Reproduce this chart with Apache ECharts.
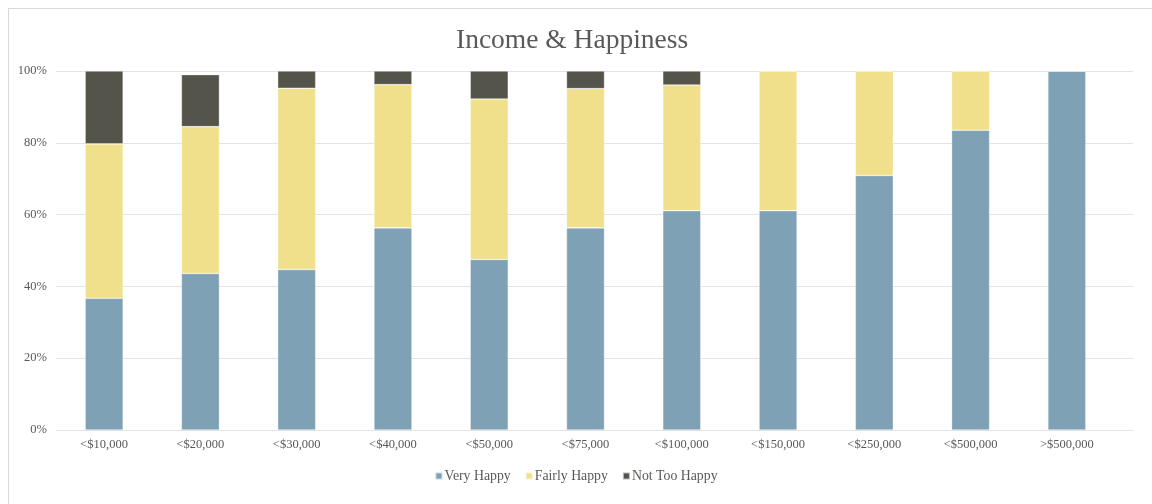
<!DOCTYPE html>
<html>
<head>
<meta charset="utf-8">
<script src="https://cdn.jsdelivr.net/npm/echarts@6/dist/echarts.min.js"></script>
<style>
  html, body { margin: 0; padding: 0; background: #fff; }
  #wrap { position: relative; width: 1152px; height: 504px; overflow: hidden; }
  #frame { position: absolute; left: 8px; top: 8px; width: 1160px; height: 520px;
           border-top: 1px solid #d9d9d9; border-left: 1px solid #d9d9d9; box-sizing: border-box; }
  #chart { position: absolute; left: 0; top: 0; width: 1152px; height: 504px; }
</style>
</head>
<body>
<div id="wrap">
  <div id="frame"></div>
  <div id="chart"></div>
</div>
<script>
var categories = ['<$10,000', '<$20,000', '<$30,000', '<$40,000', '<$50,000', '<$75,000',
                  '<$100,000', '<$150,000', '<$250,000', '<$500,000', '>$500,000'];
var veryHappy   = [36.7, 43.6, 44.7, 56.3, 47.5, 56.3, 61.1, 61.1, 70.9, 83.5, 100];
var fairlyHappy = [43.0, 40.9, 50.5, 39.9, 44.7, 38.8, 35.0, 38.9, 29.1, 16.5, 0];
var notTooHappy = [20.3, 14.5, 4.8, 3.8, 7.8, 4.9, 3.9, 0, 0, 0, 0];
var yTicks = [0, 20, 40, 60, 80, 100];

var serif = "'Liberation Serif', 'DejaVu Serif', serif";
var textColor = '#595959';
var border = { borderColor: 'rgba(255,255,255,0.6)', borderWidth: 0.6 };

var chart = echarts.init(document.getElementById('chart'));
chart.setOption({
  animation: false,
  backgroundColor: 'transparent',
  title: {
    text: 'Income & Happiness',
    left: 451,
    top: 22,
    textStyle: { fontFamily: serif, fontSize: 27.5, fontWeight: 'normal', color: textColor }
  },
  legend: {
    data: ['Very Happy', 'Fairly Happy', 'Not Too Happy'],
    left: 'center',
    top: 464,
    itemWidth: 7,
    itemHeight: 7,
    itemGap: 14,
    icon: 'rect',
    textStyle: { fontFamily: serif, fontSize: 13.8, color: textColor, padding: [0, 0, 0, -3] }
  },
  grid: [
    { left: 56, right: 37, top: 71, bottom: 74 },
    { left: 56, right: 19, top: 71, bottom: 74 }
  ],
  xAxis: [
    {
      type: 'category', gridIndex: 0, data: categories,
      axisLine: { show: false }, axisTick: { show: false },
      axisLabel: { fontFamily: serif, fontSize: 12.5, color: textColor, margin: 8, interval: 0 }
    },
    { type: 'category', gridIndex: 1, data: [''], show: false }
  ],
  yAxis: [
    {
      type: 'value', gridIndex: 0, min: yTicks[0], max: yTicks[yTicks.length - 1], interval: 20,
      splitLine: { show: false }, axisLine: { show: false }, axisTick: { show: false },
      axisLabel: { fontFamily: serif, fontSize: 12.5, color: textColor, margin: 9, formatter: '{value}%' }
    },
    {
      type: 'value', gridIndex: 1, min: 0, max: 100, interval: 20,
      axisLine: { show: false }, axisTick: { show: false }, axisLabel: { show: false },
      splitLine: { show: true, lineStyle: { color: '#e3e3e3', width: 1 } }
    }
  ],
  series: [
    { name: 'Very Happy', type: 'bar', stack: 'all', barWidth: 38, data: veryHappy,
      itemStyle: Object.assign({ color: '#7FA1B5' }, border) },
    { name: 'Fairly Happy', type: 'bar', stack: 'all', barWidth: 38, data: fairlyHappy,
      itemStyle: Object.assign({ color: '#F0E08B' }, border) },
    { name: 'Not Too Happy', type: 'bar', stack: 'all', barWidth: 38, data: notTooHappy,
      itemStyle: Object.assign({ color: '#54544A' }, border) }
  ]
});
</script>
</body>
</html>
